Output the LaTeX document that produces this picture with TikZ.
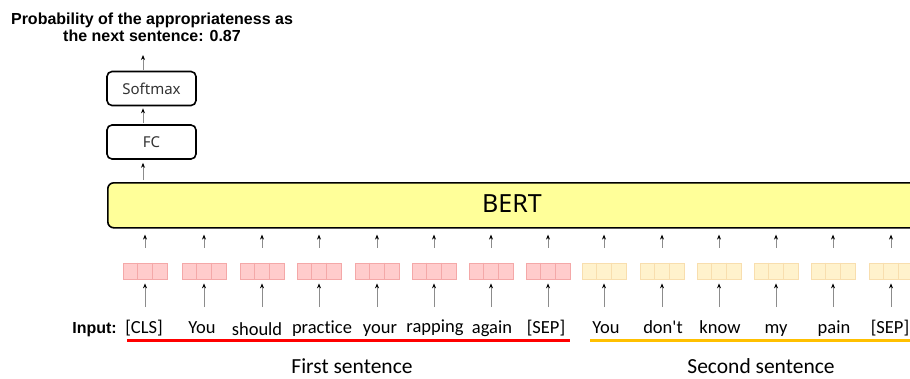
\documentclass[tikz,border=0pt]{standalone}
\usepackage{fontspec}
\setmainfont{Carlito}[Ligatures=NoCommon]
\newfontfamily\arialf{Liberation Sans}
\newfontfamily\boxf{Noto Sans}
\usetikzlibrary{arrows.meta}
\definecolor{bertyel}{HTML}{FFFF99}
\definecolor{pinkf}{HTML}{FFCCCC}
\definecolor{pinkd}{HTML}{F4A8A8}
\definecolor{beigef}{HTML}{FFF2CC}
\definecolor{beiged}{HTML}{F8DEAE}
\definecolor{arrgray}{HTML}{8C8C8C}
\definecolor{redl}{HTML}{FF0000}
\definecolor{orangel}{HTML}{FFC000}
\definecolor{boxtxt}{HTML}{333333}
\begin{document}
\begin{tikzpicture}[x=1pt,y=-1pt,
  arr/.style={draw=arrgray,line width=0.8pt,-{Stealth[length=5pt,width=4pt,color=black]}},
  emb/.style={minimum width=44pt,minimum height=16pt,inner sep=0pt,line width=0.8pt},
  embA/.style={emb,fill=pinkf,draw=pinkd},
  embB/.style={emb,fill=beigef,draw=beiged},
  word/.style={font=\fontsize{18.5}{20}\selectfont,inner sep=0pt,text height=13pt,text depth=4pt,anchor=base},
  headbox/.style={draw,line width=1.6pt,rounded corners=5pt,minimum width=89pt,minimum height=34pt,inner sep=0pt,text=boxtxt,font=\boxf\fontsize{15}{17}\selectfont},
  lbl/.style={font=\fontsize{21.5}{24}\selectfont,anchor=base,inner sep=0pt}
]
\useasboundingbox (0,0) rectangle (910,378);
\clip (0,0) rectangle (910,378);
\fill[white] (0,0) rectangle (910,378);

% title
\node[font=\arialf\bfseries\fontsize{16}{17}\selectfont,align=center,anchor=base,inner sep=0pt] (title) at (152,41)
  {Probability of the appropriateness as\\the next sentence: 0.87};

% head boxes
\node[headbox] (soft) at (151.5,88.5) {Softmax};
\node[headbox] (fc) at (151.5,142) {FC};
\coordinate (ax) at (143,0);
\coordinate (outtop) at (143,55);

% BERT
\node[draw,line width=1.6pt,fill=bertyel,rounded corners=6pt,minimum width=840pt,minimum height=45pt,anchor=north west,inner sep=0pt] (bert) at (107,182) {};
\node[font=\boxf\fontsize{25}{28}\selectfont,inner sep=0pt] (berttext) at (512,204) {BERT};

\draw[arr,shorten <=1pt] (soft.north -| ax) -- (outtop);
\draw[arr,shorten <=1pt,shorten >=2pt] (fc.north -| ax) -- (soft.south -| ax);
\draw[arr,shorten <=2pt,shorten >=3pt] (bert.north -| ax) -- (fc.south -| ax);

% tokens
\foreach \i/\x/\tx/\ty/\w/\s in {1/145/144/333/{[CLS]}/embA,2/204/202/333/{You}/embA,3/262/257/335/{should}/embA,
  4/319/322/333/{practice}/embA,5/377/380/333/{your}/embA,6/434/435/332/{rapping}/embA,7/491/492/333/{again}/embA,
  8/548/546/333/{[SEP]}/embA,9/604/606/333/{You}/embB,10/662/663/333/{don\textquotesingle t}/embB,11/719/720/333/{know}/embB,
  12/776/776/333/{my}/embB,13/833/834/333/{pain}/embB,14/891/890/333/{[SEP]}/embB}{
  \node[\s] (e\i) at (\x,271) {};
  \node[word] (w\i) at (\tx,\ty) {\w};
  \coordinate (wa\i) at (\x,320);
  \draw[arr,shorten <=13pt,shorten >=4pt] (wa\i) -- (e\i.south);
  \draw[arr,shorten <=15pt,shorten >=6pt] (e\i.north) -- (bert.south -| e\i.north);
}
\foreach \i in {1,...,8}{
  \draw[pinkd,line width=0.8pt] ([xshift=-7.33pt]e\i.north) -- ([xshift=-7.33pt]e\i.south);
  \draw[pinkd,line width=0.8pt] ([xshift=7.33pt]e\i.north) -- ([xshift=7.33pt]e\i.south);
}
\foreach \i in {9,...,14}{
  \draw[beiged,line width=0.8pt] ([xshift=-7.33pt]e\i.north) -- ([xshift=-7.33pt]e\i.south);
  \draw[beiged,line width=0.8pt] ([xshift=7.33pt]e\i.north) -- ([xshift=7.33pt]e\i.south);
}

\node[font=\arialf\bfseries\fontsize{16}{17}\selectfont,anchor=base east,inner sep=0pt] (inp) at (117,333) {Input:};

% underlines
\coordinate (r1) at (127,340);
\coordinate (r2) at (570,340);
\coordinate (o1) at (590,340);
\coordinate (o2) at (915,340);
\draw[redl,line width=3pt] (r1) -- (r2);
\draw[orangel,line width=3pt] (o1) -- (o2);

\node[lbl] (first) at (352,373) {First sentence};
\node[lbl] (second) at (761,373) {Second sentence};
\end{tikzpicture}
\end{document}
